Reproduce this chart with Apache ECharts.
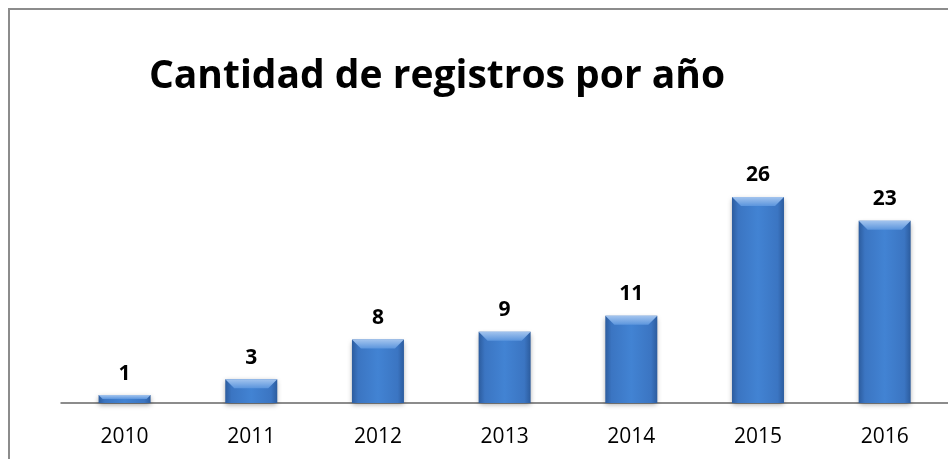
<!DOCTYPE html>
<html>
<head>
<meta charset="utf-8">
<script src="https://cdn.jsdelivr.net/npm/echarts@6/dist/echarts.min.js"></script>
<style>
  html, body { margin: 0; padding: 0; background: #fff; }
  #main { width: 948px; height: 459px; }
</style>
</head>
<body>
<div id="main"></div>
<script>
var years = ['2010', '2011', '2012', '2013', '2014', '2015', '2016'];
var registros = [1, 3, 8, 9, 11, 26, 23];

var myChart = echarts.init(document.getElementById('main'));

var option = {
    backgroundColor: '#fff',
    animation: false,
    title: {
        text: 'Cantidad de registros por año',
        left: 432,
        textAlign: 'center',
        top: 52,
        textStyle: {
            fontFamily: 'Open Sans',
            fontWeight: 'bold',
            fontSize: 39,
            color: '#000'
        }
    },
    graphic: [{
        type: 'rect',
        shape: { x: 9, y: 9, width: 1000, height: 500 },
        style: { fill: 'none', stroke: '#8c8c8c', lineWidth: 2 }
    }],
    grid: {
        left: 61.25,
        top: 165.3,
        width: 892.5,
        height: 237.7
    },
    xAxis: {
        type: 'category',
        data: years,
        axisTick: { show: false },
        axisLine: {
            lineStyle: { color: '#8c8c8c', width: 2 }
        },
        axisLabel: {
            margin: 24,
            fontFamily: 'Open Sans',
            fontSize: 21,
            color: '#000'
        }
    },
    yAxis: {
        type: 'value',
        min: 0,
        max: 30,
        show: false,
        splitLine: { show: false }
    },
    series: [{
        name: 'registros',
        type: 'bar',
        barWidth: 52,
        data: registros,
        itemStyle: {
            color: {
                type: 'linear', x: 0, y: 0, x2: 1, y2: 0,
                colorStops: [
                    { offset: 0, color: '#2c5c9e' },
                    { offset: 0.12, color: '#3b75c2' },
                    { offset: 0.5, color: '#4283d3' },
                    { offset: 0.88, color: '#3b75c2' },
                    { offset: 1, color: '#2c5c9e' }
                ]
            },
            shadowBlur: 5,
            shadowOffsetY: 2,
            shadowColor: 'rgba(0, 0, 0, 0.35)'
        },
        label: {
            show: true,
            position: 'top',
            distance: 11,
            fontFamily: 'Open Sans',
            fontWeight: 'bold',
            fontSize: 21,
            color: '#000'
        }
    }, {
        // highlight strip along the top of each bar
        name: 'bevel',
        type: 'custom',
        data: registros.map(function(v, i) { return [i, v]; }),
        encode: { x: 0, y: 1 },
        z: 3,
        renderItem: function(params, api) {
            var i = api.value(0);
            var top = api.coord([i, api.value(1)]);
            var base = api.coord([i, 0]);
            var w = 52;
            var x = top[0] - w / 2;
            var y = top[1];
            var h = Math.min(9, (base[1] - y) / 2);
            return {
                type: 'polygon',
                shape: {
                    points: [[x, y], [x + w, y], [x + w - h, y + h], [x + h, y + h]]
                },
                style: {
                    fill: {
                        type: 'linear', x: 0, y: 0, x2: 0, y2: 1,
                        colorStops: [
                            { offset: 0, color: '#a3c4ee' },
                            { offset: 1, color: '#5b95dd' }
                        ]
                    }
                }
            };
        }
    }]
};

myChart.setOption(option);
</script>
</body>
</html>
